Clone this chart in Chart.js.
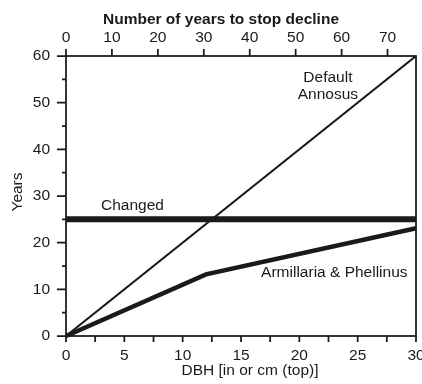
<!DOCTYPE html>
<html>
<head>
<meta charset="utf-8">
<script src="https://cdn.jsdelivr.net/npm/chart.js"></script>
<style>
  html, body { margin: 0; padding: 0; background: #fff; overflow: hidden; }
  canvas { display: block; }
</style>
</head>
<body>
<canvas id="chart" width="422" height="384"></canvas>
<script>
// Years of treatment by stem diameter (DBH, inches; top axis in cm)
const annosusDbh = [0, 30];
const annosusYears = [0, 60];

const changedDbh = [0, 30];
const changedYears = [25, 25];

const armPhelDbh = [0, 12, 30];
const armPhelYears = [0, 13.2, 23.1];

const dbhTicks = [0, 5, 10, 15, 20, 25, 30];
const cmTicks = [0, 10, 20, 30, 40, 50, 60, 70];
const yearTicks = [0, 10, 20, 30, 40, 50, 60];

// In-plot curve names: [text, dbh, years]
const curveLabels = [
  ['Default', 22.45, 55.3],
  ['Annosus', 22.45, 51.6],
  ['Changed', 5.7, 28.0],
  ['Armillaria & Phellinus', 23.0, 13.5]
];

const topTitle = 'Number of years to stop decline';
const bottomTitle = 'DBH [in or cm (top)]';
const leftTitle = 'Years';

const INK = '#1a1a1a';
const FONT = 'Liberation Sans, Arial, sans-serif';
const FONT_SIZE = 15.5;

const toPoints = (xs, ys) => xs.map((x, i) => ({ x, y: ys[i] }));

// Frame, tick marks, axis titles and curve names
const decorations = {
  id: 'decorations',
  beforeDatasetsDraw(chart) {
    const { ctx, chartArea: a, scales } = chart;
    const x = scales.x, x2 = scales.x2, y = scales.y;
    ctx.save();
    ctx.strokeStyle = INK;
    ctx.lineWidth = 1.75;
    ctx.strokeRect(a.left, a.top, a.right - a.left, a.bottom - a.top);

    ctx.beginPath();
    // left axis: long ticks at labelled values, short ones halfway
    for (let v = y.min; v <= y.max + 1e-9; v += 5) {
      const py = y.getPixelForValue(v);
      const len = v % 10 === 0 ? 9 : 4;
      ctx.moveTo(a.left, py);
      ctx.lineTo(a.left - len, py);
    }
    // bottom axis ticks every 2.5 in
    for (let v = x.min; v <= x.max + 1e-9; v += 2.5) {
      const px = x.getPixelForValue(v);
      ctx.moveTo(px, a.bottom);
      ctx.lineTo(px, a.bottom + 6);
    }
    // top axis ticks at the cm labels
    cmTicks.forEach(v => {
      const px = x2.getPixelForValue(v);
      ctx.moveTo(px, a.top);
      ctx.lineTo(px, a.top - 7);
    });
    ctx.stroke();

    ctx.fillStyle = INK;
    ctx.textAlign = 'center';
    ctx.textBaseline = 'middle';
    ctx.font = 'bold ' + FONT_SIZE + 'px ' + FONT;
    ctx.fillText(topTitle, a.left + 155, 20);
    ctx.font = FONT_SIZE + 'px ' + FONT;
    ctx.fillText(bottomTitle, a.left + 184, 371);
    ctx.save();
    ctx.translate(18, 192);
    ctx.rotate(-Math.PI / 2);
    ctx.fillText(leftTitle, 0, 0);
    ctx.restore();

    curveLabels.forEach(([t, dx, dy]) => {
      ctx.fillText(t, x.getPixelForValue(dx), y.getPixelForValue(dy));
    });
    ctx.restore();
  }
};

const noPad = s => { s.paddingLeft = 0; s.paddingRight = 0; s.paddingTop = 0; s.paddingBottom = 0; };

Chart.defaults.font.family = FONT;
Chart.defaults.font.size = FONT_SIZE;
Chart.defaults.color = INK;

new Chart(document.getElementById('chart'), {
  type: 'line',
  data: {
    datasets: [
      { label: 'Default Annosus', data: toPoints(annosusDbh, annosusYears), borderColor: INK, borderWidth: 2.2 },
      { label: 'Changed', data: toPoints(changedDbh, changedYears), borderColor: INK, borderWidth: 6 },
      { label: 'Armillaria & Phellinus', data: toPoints(armPhelDbh, armPhelYears), borderColor: INK, borderWidth: 4.5 }
    ]
  },
  options: {
    responsive: false,
    animation: false,
    devicePixelRatio: 1,
    clip: false,
    layout: { padding: { left: 0, top: 0, right: 6, bottom: 0 } },
    elements: { point: { radius: 0 }, line: { tension: 0, fill: false } },
    plugins: { legend: { display: false }, tooltip: { enabled: false } },
    scales: {
      x: {
        type: 'linear', position: 'bottom', min: 0, max: 30,
        grid: { display: false, drawTicks: false }, border: { display: false },
        ticks: { stepSize: 5, padding: 10, maxRotation: 0, callback: v => dbhTicks.includes(v) ? String(v) : '' },
        afterFit: s => { s.height = 48; noPad(s); }
      },
      x2: {
        type: 'linear', position: 'top', min: 0, max: 76.2,
        grid: { display: false, drawTicks: false }, border: { display: false },
        ticks: { stepSize: 10, padding: 9, includeBounds: false, maxRotation: 0, callback: v => cmTicks.includes(v) ? String(v) : '' },
        afterFit: s => { s.height = 56; noPad(s); }
      },
      y: {
        type: 'linear', position: 'left', min: 0, max: 60,
        grid: { display: false, drawTicks: false }, border: { display: false },
        ticks: { stepSize: 10, padding: 16, callback: v => yearTicks.includes(v) ? String(v) : '' },
        afterFit: s => { s.width = 66; noPad(s); }
      }
    }
  },
  plugins: [decorations]
});
</script>
</body>
</html>
